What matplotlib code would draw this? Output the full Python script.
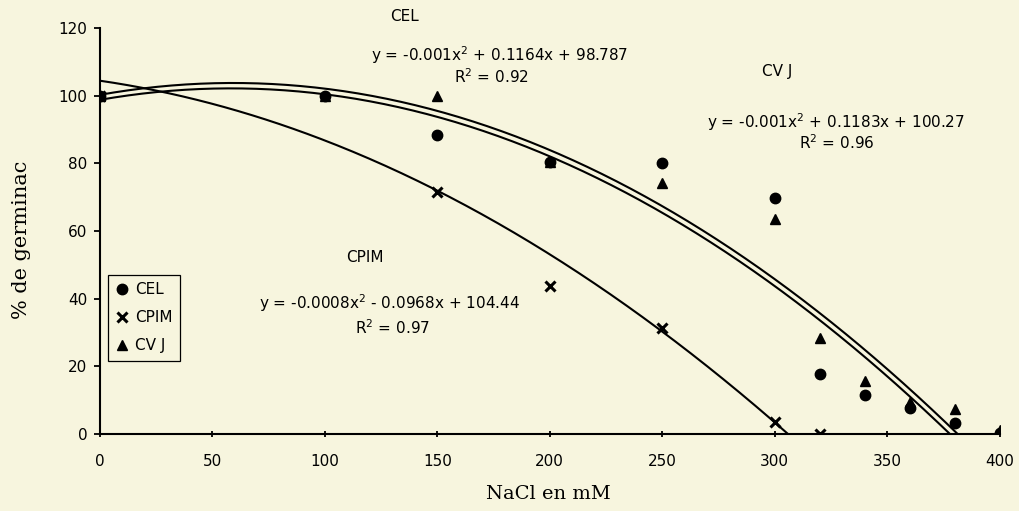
import matplotlib.pyplot as plt
import numpy as np

# Germination (%) versus NaCl concentration (mM)
nacl = [0, 100, 150, 200, 250, 300, 320, 340, 360, 380, 400]
cel = [100, 100, 88.5, 80.5, 80.2, 69.8, 17.8, 11.5, 7.7, 3.3, 0.3]
cvj = [100, 100, 99.8, 80.5, 74.3, 63.5, 28.4, 15.5, 9.3, 7.4, 1.0]
cpim_x = [0, 150, 200, 250, 300, 320]
cpim = [100, 71.6, 43.8, 31.4, 3.6, 0]

# Quadratic trend lines as printed on the chart (a, b, c for ax^2 + bx + c)
coef_cel = (-0.001, 0.1164, 98.787)
coef_cvj = (-0.001, 0.1183, 100.27)
coef_cpim = (-0.0008, -0.0968, 104.44)

eq_cel = 'y = -0.001x$^{2}$ + 0.1164x + 98.787'
eq_cvj = 'y = -0.001x$^{2}$ + 0.1183x + 100.27'
eq_cpim = 'y = -0.0008x$^{2}$ - 0.0968x + 104.44'
r2_cel, r2_cvj, r2_cpim = 'R$^{2}$ = 0.92', 'R$^{2}$ = 0.96', 'R$^{2}$ = 0.97'

bg = '#f7f5de'
sans = 'DejaVu Sans'
serif = 'DejaVu Serif'
fs = 11

fig = plt.figure(figsize=(10.2, 5.11), dpi=100, facecolor=bg)
ax = fig.add_axes([0.098, 0.151, 0.882, 0.794], facecolor=bg)


def trend(coef):
    a, b, c = coef
    roots = np.roots([a, b, c])
    end = max(r.real for r in roots if abs(r.imag) < 1e-9)
    xs = np.linspace(0, end, 300)
    return xs, np.polyval([a, b, c], xs)


for coef in (coef_cel, coef_cvj, coef_cpim):
    xs, ys = trend(coef)
    ax.plot(xs, ys, color='black', lw=1.5, zorder=2)

ax.plot(nacl, cel, 'o', color='black', ms=7.5, label='CEL', zorder=3)
ax.plot(cpim_x, cpim, 'x', color='black', ms=7.5, mew=2.2, label='CPIM', zorder=3)
ax.plot(nacl, cvj, '^', color='black', ms=7.5, label='CV J', zorder=3)

ax.set_xlim(0, 400)
ax.set_ylim(0, 120)
ax.set_xticks(range(0, 401, 50))
ax.set_yticks(range(0, 121, 20))
for s in ('top', 'right'):
    ax.spines[s].set_visible(False)
for s in ('left', 'bottom'):
    ax.spines[s].set_linewidth(1.5)
ax.tick_params(axis='y', direction='out', length=4, width=1.3, labelsize=fs, pad=5)
ax.tick_params(axis='x', direction='inout', length=5, width=1.3, labelsize=fs, pad=12)
for lab in ax.get_xticklabels() + ax.get_yticklabels():
    lab.set_fontfamily(sans)

ax.set_xlabel('NaCl en mM', fontfamily=serif, fontsize=14)
ax.set_ylabel('% de germinac', fontfamily=serif, fontsize=15)
ax.xaxis.set_label_coords(0.498, -0.125)
ax.yaxis.set_label_coords(-0.077, 0.478)

tk = dict(fontfamily=sans, fontsize=fs, ha='center', va='center',
          transform=ax.transData, clip_on=False)
ax.text(135.6, 123.4, 'CEL', **tk)
ax.text(177.8, 112.0, eq_cel, **tk)
ax.text(173.8, 105.5, r2_cel, **tk)
ax.text(300.9, 107.1, 'CV J', **tk)
ax.text(327.0, 92.3, eq_cvj, **tk)
ax.text(327.6, 86.0, r2_cvj, **tk)
ax.text(118.0, 52.1, 'CPIM', **tk)
ax.text(129.0, 38.6, eq_cpim, **tk)
ax.text(130.0, 31.4, r2_cpim, **tk)

leg = ax.legend(loc='upper left', bbox_to_anchor=(0.009, 0.392), frameon=True,
                fancybox=False, edgecolor='black', facecolor=bg, framealpha=1,
                prop={'family': sans, 'size': fs}, handlelength=0.8,
                handletextpad=0.45, borderpad=0.5, labelspacing=0.85,
                borderaxespad=0)
leg.get_frame().set_linewidth(0.9)

fig.savefig('out.png', dpi=100, facecolor=bg)
